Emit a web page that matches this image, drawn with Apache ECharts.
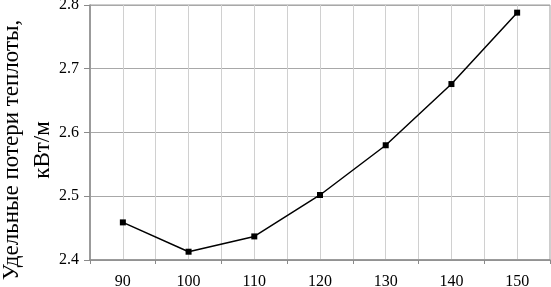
<!DOCTYPE html>
<html><head><meta charset="utf-8">
<script src="https://cdn.jsdelivr.net/npm/echarts@6/dist/echarts.min.js"></script>
<style>html,body{margin:0;padding:0;background:#fff}#c{width:551px;height:287px}</style>
</head><body><div id="c"></div>
<script>
const categories = ['90','100','110','120','130','140','150'];
const heatLoss = [2.459, 2.413, 2.437, 2.502, 2.580, 2.676, 2.788];
const yTicks = [2.4, 2.5, 2.6, 2.7, 2.8];
const yTitle = 'Удельные потери теплоты,\nкВт/м';

const chart = echarts.init(document.getElementById('c'), null, {renderer: 'canvas'});
const font = 'Liberation Serif';
chart.setOption({
  animation: false,
  backgroundColor: '#fff',
  grid: {left: 90, right: 1, top: 5, bottom: 27, show: true, borderColor: '#9a9a9a', borderWidth: 1,
         containLabel: false, outerBoundsMode: 'none'},
  xAxis: [{
    type: 'category', data: categories, boundaryGap: true,
    axisLine: {lineStyle: {color: '#8a8a8a', width: 1.5}},
    axisTick: {show: true, length: 4, lineStyle: {color: '#8a8a8a'}},
    axisLabel: {fontFamily: font, fontSize: 16, color: '#000', margin: 14},
    splitLine: {show: false}
  }, {
    type: 'value', min: 0, max: 2 * categories.length, interval: 1, position: 'bottom',
    axisLine: {show: false}, axisTick: {show: false}, axisLabel: {show: false},
    splitLine: {show: true, lineStyle: {color: '#d0d0d0', width: 1}}
  }],
  yAxis: {
    type: 'value', min: yTicks[0], max: yTicks[yTicks.length - 1], interval: 0.1,
    axisLine: {show: true, lineStyle: {color: '#8a8a8a', width: 1.5}},
    axisTick: {show: true, length: 6, lineStyle: {color: '#8a8a8a'}},
    axisLabel: {fontFamily: font, fontSize: 16, color: '#000', margin: 11, formatter: v => v.toFixed(1)},
    splitLine: {show: true, lineStyle: {color: '#a8a8a8', width: 1}}
  },
  graphic: [{
    type: 'text', x: 27, y: 150, rotation: Math.PI / 2,
    style: {text: yTitle, fontFamily: font, fontSize: 23, fill: '#000', align: 'center', verticalAlign: 'middle', lineHeight: 31}
  }],
  series: [{
    type: 'line', xAxisIndex: 0, data: heatLoss,
    symbol: 'rect', symbolSize: 6,
    lineStyle: {color: '#000', width: 1.5},
    itemStyle: {color: '#000'}
  }]
});
</script></body></html>
